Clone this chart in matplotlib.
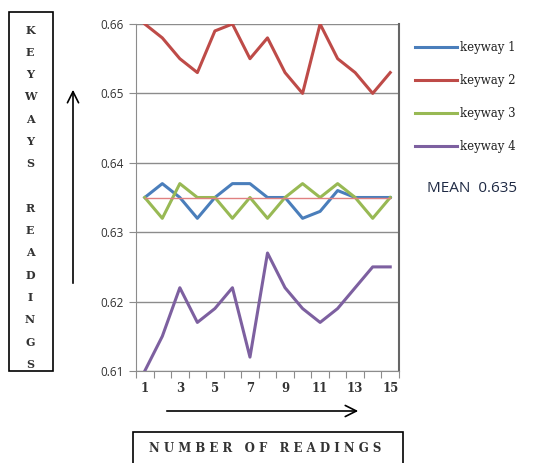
import matplotlib
matplotlib.use("Agg")
import matplotlib.pyplot as plt
from matplotlib.patches import Rectangle, FancyArrowPatch

readings = list(range(1, 16))
keyway1 = [0.635, 0.637, 0.635, 0.632, 0.635, 0.637, 0.637, 0.635, 0.635, 0.632, 0.633, 0.636, 0.635, 0.635, 0.635]
keyway2 = [0.660, 0.658, 0.655, 0.653, 0.659, 0.660, 0.655, 0.658, 0.653, 0.650, 0.660, 0.655, 0.653, 0.650, 0.653]
keyway3 = [0.635, 0.632, 0.637, 0.635, 0.635, 0.632, 0.635, 0.632, 0.635, 0.637, 0.635, 0.637, 0.635, 0.632, 0.635]
keyway4 = [0.610, 0.615, 0.622, 0.617, 0.619, 0.622, 0.612, 0.627, 0.622, 0.619, 0.617, 0.619, 0.622, 0.625, 0.625]
mean_val = 0.635
y_ticks = [0.61, 0.62, 0.63, 0.64, 0.65, 0.66]
x_labels = [1, 3, 5, 7, 9, 11, 13, 15]

W, H = 541, 463
fig = plt.figure(figsize=(W / 100, H / 100), dpi=100)
fig.patch.set_facecolor("white")

def fx(px):
    return px / W

def fy(py):
    return 1 - py / H

ax = fig.add_axes([fx(136), fy(371), fx(399) - fx(136), fy(24) - fy(371)])

series = [(keyway1, "#4A7EBB", "keyway 1"),
          (keyway2, "#BE4B48", "keyway 2"),
          (keyway3, "#98B954", "keyway 3"),
          (keyway4, "#7D60A0", "keyway 4")]
for vals, col, lab in series:
    ax.plot(readings, vals, color=col, lw=2.2, label=lab, zorder=3)

# mean line
ax.plot([readings[0], readings[-1]], [mean_val, mean_val], color="#E08080", lw=1.0, zorder=4)

ax.set_xlim(0.5, 15.5)
ax.set_ylim(0.61, 0.66)
ax.set_yticks(y_ticks)
ax.set_yticklabels([f"{v:.2f}" for v in y_ticks], family="Open Sans", fontsize=8.5, color="#333333")
ax.yaxis.grid(True, color="#8C8C8C", lw=1.0)
ax.set_axisbelow(True)

ax.set_xticks([r + 0.5 for r in [0] + readings])
ax.set_xticklabels([])
ax.set_xticks(x_labels, minor=True)
ax.set_xticklabels([str(v) for v in x_labels], minor=True, family="DejaVu Serif",
                   fontsize=8.5, fontweight="bold", color="#333333")
ax.tick_params(axis="x", which="major", length=5, color="#8C8C8C", direction="out")
ax.tick_params(axis="x", which="minor", length=0, pad=8)
ax.tick_params(axis="y", length=5, color="#8C8C8C", pad=4)

for s in ["left", "bottom"]:
    ax.spines[s].set_color("#8C8C8C")
ax.spines["top"].set_visible(False)
ax.spines["right"].set_color("#666666")
ax.spines["right"].set_linewidth(1.5)

# legend
leg = fig.legend(loc="upper left", bbox_to_anchor=(fx(410), fy(36)), frameon=False,
                 prop={"family": "DejaVu Serif", "size": 8.5}, handlelength=3.6,
                 handletextpad=0.2, labelspacing=1.7, borderaxespad=0)
for t in leg.get_texts():
    t.set_color("#222222")

fig.text(fx(427), fy(188), "MEAN  0.635", family="Open Sans", fontsize=11,
         color="#1F2A44", va="center", ha="left")

# left box with vertical label
fig.add_artist(Rectangle((fx(9), fy(371)), fx(53) - fx(9), fy(12) - fy(371),
                         transform=fig.transFigure, fill=False, edgecolor="black", lw=1.2))
label = "KEYWAYS READINGS"
for i, ch in enumerate(label):
    if ch != " ":
        fig.text(fx(30), fy(30 + i * 22.3), ch, family="DejaVu Serif", fontsize=8,
                 fontweight="bold", color="#333333", ha="center", va="center")

# bottom box
fig.add_artist(Rectangle((fx(133), fy(470)), fx(403) - fx(133), fy(432) - fy(470),
                         transform=fig.transFigure, fill=False, edgecolor="black", lw=1.2))
fig.text(fx(265), fy(449), " ".join("NUMBER") + "   " + " ".join("OF") + "   " + " ".join("READINGS"),
         family="DejaVu Serif", fontsize=8.5, fontweight="bold", color="#333333",
         ha="center", va="center")

# arrows
fig.add_artist(FancyArrowPatch((fx(164), fy(411)), (fx(361), fy(411)), transform=fig.transFigure,
                               arrowstyle="->,head_length=8,head_width=4", color="black", lw=1.2))
fig.add_artist(FancyArrowPatch((fx(73), fy(286)), (fx(73), fy(87)), transform=fig.transFigure,
                               arrowstyle="->,head_length=8,head_width=4", color="black", lw=1.2))

fig.savefig("out.png", dpi=100, facecolor="white")
